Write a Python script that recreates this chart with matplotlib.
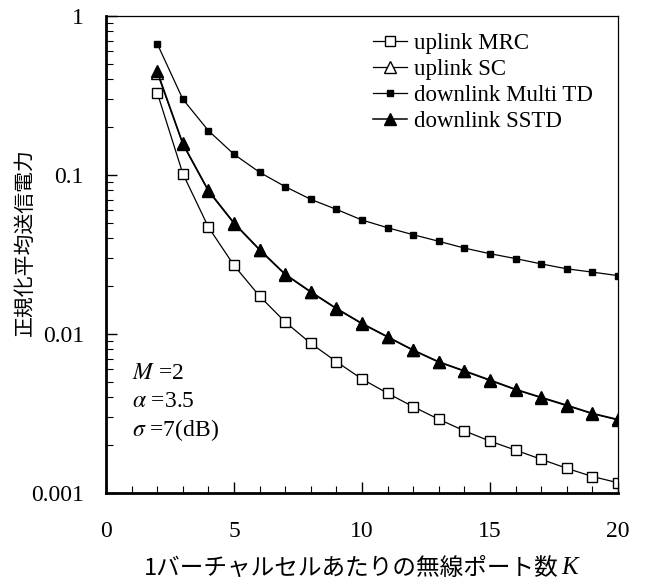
import matplotlib
matplotlib.use("Agg")
import matplotlib.pyplot as plt
from matplotlib.ticker import FixedLocator, NullFormatter

plt.rcParams['font.family'] = ['Liberation Serif', 'Noto Sans CJK JP']
plt.rcParams['mathtext.fontset'] = 'stix'

K = list(range(2, 21))

# normalized average transmit power
uplink_mrc = [0.33, 0.102, 0.047, 0.027, 0.0173, 0.0119, 0.00873, 0.0067,
              0.00521, 0.00424, 0.00349, 0.00291, 0.00246, 0.00212, 0.00186,
              0.00163, 0.00143, 0.00127, 0.00116]
uplink_sc = [0.44, 0.156, 0.079, 0.0495, 0.0337, 0.0236, 0.0183, 0.0144,
             0.01158, 0.00955, 0.00788, 0.00664, 0.00583, 0.0051, 0.00446,
             0.00397, 0.00354, 0.00315, 0.00288]
downlink_multi_td = [0.67, 0.30, 0.19, 0.135, 0.104, 0.0845, 0.0703, 0.0608,
                     0.0521, 0.0466, 0.0421, 0.0383, 0.0347, 0.032, 0.0298,
                     0.0276, 0.0257, 0.0245, 0.0233]
downlink_sstd = [0.45, 0.158, 0.080, 0.050, 0.034, 0.0238, 0.01845, 0.0145,
                 0.01167, 0.00962, 0.00793, 0.00669, 0.00587, 0.00514, 0.00449,
                 0.004, 0.00357, 0.00317, 0.0029]

fig = plt.figure(figsize=(6.48, 5.84), dpi=100)
ax = fig.add_axes([0.1636, 0.1558, 0.7901, 0.8168])

ax.plot(K, uplink_mrc, '-s', color='black', lw=0.9, ms=7.5, mfc='white',
        mew=1.0, label='uplink MRC')
ax.plot(K, uplink_sc, '-^', color='black', lw=0.9, ms=9, mfc='white',
        mew=1.0, label='uplink SC')
ax.plot(K, downlink_multi_td, '-s', color='black', lw=0.9, ms=4.5,
        mfc='black', label='downlink Multi TD')
ax.plot(K, downlink_sstd, '-^', color='black', lw=1.1, ms=8,
        mfc='black', label='downlink SSTD')

ax.set_yscale('log')
ax.set_xlim(0, 20)
ax.set_ylim(0.001, 1)
ax.set_xticks([0, 5, 10, 15, 20])
ax.xaxis.set_minor_locator(FixedLocator(range(0, 21)))
ax.set_yticks([0.001, 0.01, 0.1, 1])
ax.set_yticklabels(['0.001', '0.01', '0.1', '1'])
ax.yaxis.set_minor_formatter(NullFormatter())

ax.tick_params(which='major', direction='in', length=8, width=1.0,
               labelsize=17, top=False, right=False)
ax.tick_params(which='minor', direction='in', length=5, width=0.8,
               top=False, right=False)
ax.tick_params(axis='y', which='major', pad=16)
ax.tick_params(axis='x', which='major', pad=20)

for side in ['left', 'bottom']:
    ax.spines[side].set_linewidth(2.0)
for side in ['top', 'right']:
    ax.spines[side].set_linewidth(0.9)

# x label: Japanese text plus italic K
ax.text(0.885, -0.158, '1バーチャルセルあたりの無線ポート数', transform=ax.transAxes,
        fontsize=17, ha='right', va='center', family='Noto Sans CJK JP')
ax.text(0.89, -0.158, 'K', transform=ax.transAxes, fontsize=18,
        style='italic', ha='left', va='center')

ax.set_ylabel('正規化平均送信電力', fontsize=15, family='Noto Sans CJK JP')
ax.yaxis.set_label_coords(-0.138, 0.526)

ax.text(0.05, 0.24, '$M$ =2', transform=ax.transAxes, fontsize=17)
ax.text(0.05, 0.18, r'$\alpha$ =3.5', transform=ax.transAxes, fontsize=17)
ax.text(0.05, 0.12, r'$\sigma$ =7(dB)', transform=ax.transAxes, fontsize=17)

ax.legend(loc='upper left', bbox_to_anchor=(0.521, 0.965), frameon=False,
          fontsize=16.5, handlelength=1.5, handletextpad=0.3,
          labelspacing=0.22, borderaxespad=0, borderpad=0)

fig.savefig('out.png', dpi=100)
